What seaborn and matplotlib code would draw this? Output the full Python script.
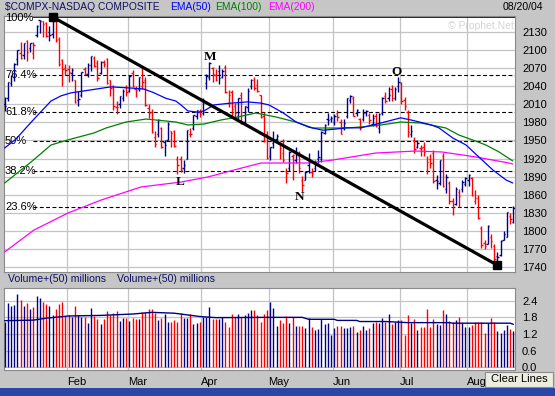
import numpy as np
import pandas as pd
import seaborn as sns
import matplotlib
matplotlib.use('Agg')
import matplotlib.pyplot as plt
from matplotlib.patches import Rectangle
import matplotlib.transforms as mtransforms

# daily bars, Jan 2 2004 .. Aug 20 2004 (trading-day index on the x axis)
opens = [2011, 2020, 2045, 2055, 2085, 2095, 2092, 2115, 2104, 2096, 2125, 2150, 2148, 2145, 2130, 2126, 2150, 2118, 2083, 2070,
         2068, 2062, 2050, 2018, 2025, 2069, 2060, 2075, 2087, 2078, 2062, 2080, 2085, 2050, 2040, 2005, 2010, 2020, 2038,
         2032, 2062, 2036, 2035, 2040, 2050, 2004, 1997, 1955, 1960, 1970, 1948, 1950, 1965, 1965, 1920, 1920, 1905, 1920, 1960, 1970, 1990, 1998,
         1995, 2045, 2055, 2070, 2058, 2065, 2055, 2072, 2012, 2030, 2008, 1990, 2025, 1980, 2005, 2040, 2050, 2042, 2025, 1990, 1960,
         1925, 1945, 1952, 1945, 1930, 1900, 1905, 1925, 1917, 1925, 1885, 1885, 1910, 1897, 1905, 1920, 1920, 1962, 1985, 1985,
         1980, 1995, 1980, 1970, 1990, 2018, 2020, 1995, 1985, 1985, 1995, 1992, 1978, 1990, 1970, 1995, 2023, 2020, 2035, 2020, 2040,
         2045, 2018, 1997, 1960, 1950, 1940, 1937, 1940, 1900, 1920, 1930, 1885, 1880, 1925, 1870, 1880, 1850, 1845, 1865, 1870, 1878,
         1885, 1888, 1850, 1855, 1805, 1780, 1778, 1790, 1775, 1758, 1760, 1785, 1790, 1825, 1815]
highs = [2022, 2047, 2058, 2078, 2100, 2113, 2112, 2116, 2112, 2114, 2141, 2150, 2149, 2147, 2140, 2154, 2150, 2121, 2085, 2077,
         2076, 2070, 2050, 2032, 2064, 2072, 2079, 2090, 2090, 2083, 2082, 2083, 2087, 2051, 2042, 2015, 2024, 2036, 2042,
         2058, 2067, 2040, 2056, 2072, 2055, 2010, 2003, 1966, 1985, 1972, 1950, 1980, 1966, 1968, 1925, 1924, 1917, 1968, 1971, 1993, 2001, 2003,
         2021, 2061, 2080, 2072, 2068, 2075, 2068, 2075, 2034, 2034, 2012, 2021, 2030, 2007, 2037, 2052, 2056, 2052, 2026, 1998, 1966,
         1940, 1966, 1961, 1947, 1953, 1905, 1932, 1928, 1940, 1932, 1891, 1900, 1929, 1905, 1918, 1935, 1965, 1978, 1996, 1990,
         1994, 2000, 1985, 1985, 2021, 2025, 2023, 2002, 1988, 2002, 2000, 1995, 1994, 1996, 1995, 2022, 2030, 2038, 2042, 2038, 2055,
         2047, 2022, 2000, 1975, 1955, 1950, 1942, 1948, 1925, 1927, 1935, 1893, 1918, 1930, 1895, 1883, 1855, 1873, 1870, 1885, 1890,
         1895, 1890, 1867, 1860, 1808, 1785, 1809, 1795, 1778, 1765, 1785, 1800, 1832, 1830, 1841]
lows = [1999, 2016, 2040, 2048, 2075, 2085, 2085, 2082, 2097, 2086, 2121, 2128, 2121, 2121, 2115, 2120, 2114, 2073, 2040, 2058,
        2047, 2049, 2013, 2008, 2022, 2058, 2056, 2065, 2072, 2049, 2061, 2072, 2044, 2023, 2000, 1994, 2004, 2016, 2024,
        2030, 2039, 2022, 2032, 2036, 2008, 1987, 1962, 1940, 1955, 1937, 1925, 1950, 1940, 1940, 1895, 1897, 1896, 1919, 1955, 1968, 1985, 1989,
        1993, 2036, 2050, 2047, 2048, 2044, 2054, 2029, 2006, 1989, 1986, 1986, 1978, 1975, 1997, 2035, 2033, 2031, 1988, 1947, 1919,
        1917, 1937, 1945, 1920, 1915, 1880, 1900, 1884, 1913, 1896, 1865, 1884, 1896, 1889, 1900, 1912, 1915, 1960, 1975, 1980,
        1975, 1982, 1960, 1968, 1988, 2012, 1990, 1990, 1967, 1983, 1990, 1978, 1974, 1972, 1962, 1993, 2013, 2016, 2015, 2018, 2030,
        2010, 2000, 1955, 1955, 1930, 1937, 1925, 1925, 1895, 1905, 1880, 1870, 1876, 1873, 1863, 1845, 1827, 1843, 1840, 1865, 1874,
        1875, 1858, 1845, 1820, 1772, 1770, 1778, 1772, 1750, 1743, 1758, 1784, 1789, 1812, 1813]
closes = [2006.7, 2047.4, 2057.4, 2077.7, 2100.3, 2086.9, 2111.8, 2096.4, 2111.1, 2109.1, 2140.5, 2148.0, 2142.5, 2123.9, 2124.4, 2153.8, 2116.0, 2077.4, 2068.2, 2066.2,
          2063.2, 2066.2, 2014.1, 2019.6, 2064.0, 2060.6, 2075.3, 2089.7, 2073.6, 2053.6, 2080.4, 2076.5, 2046.0, 2037.9, 2007.5, 2005.4, 2023.0, 2032.6, 2029.8,
          2057.8, 2039.7, 2033.4, 2055.1, 2047.6, 2008.8, 1995.2, 1964.2, 1943.9, 1984.7, 1939.2, 1943.1, 1976.8, 1962.4, 1940.5, 1909.9, 1901.8, 1909.5, 1967.2, 1960.0, 1992.6, 2000.6, 1994.2,
          2015.0, 2057.2, 2079.1, 2059.9, 2050.2, 2052.9, 2065.5, 2030.1, 2024.9, 2002.2, 1995.7, 2020.4, 1978.6, 2006.9, 2032.9, 2049.8, 2036.8, 2032.5, 1989.5, 1958.8, 1920.2,
          1938.7, 1950.5, 1957.3, 1937.7, 1918.0, 1896.1, 1931.4, 1925.6, 1926.0, 1904.3, 1876.6, 1897.8, 1898.2, 1896.6, 1912.1, 1923.0, 1964.7, 1976.2, 1984.5, 1986.7,
          1990.8, 1989.0, 1960.3, 1978.6, 2020.6, 2023.5, 1990.6, 1999.9, 1970.0, 1995.6, 1998.2, 1983.7, 1986.7, 1974.4, 1994.2, 2021.0, 2015.6, 2025.5, 2019.8, 2034.9, 2047.8,
          2015.6, 2006.7, 1963.4, 1966.1, 1935.3, 1946.3, 1936.9, 1931.7, 1914.9, 1912.7, 1883.2, 1883.2, 1917.1, 1874.4, 1889.1, 1849.1, 1839.0, 1869.1, 1858.3, 1881.1, 1887.4,
          1892.1, 1859.4, 1855.1, 1821.6, 1776.9, 1774.6, 1808.7, 1782.4, 1752.5, 1757.2, 1782.8, 1795.3, 1831.4, 1819.9, 1838.0]
volume = [1.65, 2.31, 2.21, 2.25, 2.64, 2.43, 2.21, 2.33, 2.09, 2.19, 2.57, 2.51, 2.34, 2.28, 2.21, 1.89, 2.09, 2.27, 2.35, 1.85,
          1.89, 1.80, 2.21, 1.89, 1.83, 1.80, 1.61, 2.13, 1.85, 1.73, 1.56, 1.73, 2.03, 1.89, 1.95, 2.03, 1.68, 1.77, 1.77, 1.67,
          1.77, 1.73, 1.73, 1.98, 1.98, 2.09, 2.11, 1.97, 1.71, 1.77, 1.92, 1.65, 1.65, 1.71, 1.65, 1.95, 1.77, 1.77, 1.92, 1.55,
          1.59, 1.65, 1.80, 1.83, 2.19, 1.73, 1.73, 1.73, 1.80, 1.65, 1.47, 1.92, 1.80, 1.92, 1.80, 1.89, 1.95, 2.07, 2.07, 1.89,
          1.65, 1.91, 2.07, 2.37, 2.13,
          1.50, 1.70, 1.60, 1.85, 1.60, 1.83, 1.50, 1.50, 1.50, 1.40, 1.77, 1.47, 1.35, 1.37, 1.73, 1.56, 1.58, 1.17, 1.40, 1.50,
          1.50, 1.40, 1.40, 1.47, 1.50, 1.28, 1.35, 1.50, 1.35, 1.40, 1.58, 1.65, 1.60, 1.77, 1.65, 1.92, 1.56, 1.65, 1.70, 1.70,
          1.17, 1.89, 1.58, 1.74, 1.35, 1.47, 1.44, 2.09, 1.47, 1.73, 1.56, 1.52, 2.07, 1.92, 1.68, 1.65, 1.70, 1.80, 1.60, 1.47,
          1.47, 1.51, 1.65, 1.65, 1.65, 1.25, 1.58, 1.77, 1.65, 1.32, 1.22, 1.35, 1.52, 1.37, 1.32]

# moving averages (index, value)
ema50_x = [0, 3.5, 6.7, 9.8, 14.5, 17.6, 20.7, 27, 33.2, 39.5, 43.5, 46.3, 50.4, 53.5, 55.1, 57.3, 60.4, 62.3, 65.4, 70.7,
           76, 80.1, 82.6, 87, 91, 95.1, 99.5, 103.5, 106.7, 111.3, 117.6, 123.8, 127, 133.2, 135.7, 140.1, 144.2, 148.2,
           152.6, 156.7, 158.8]
ema50_y = [1937.5, 1952, 1971, 1989, 2015.5, 2024, 2029, 2034, 2039, 2037, 2035.4, 2030, 2020, 2015.5, 2009, 1999, 1997, 1999,
           2009, 2012, 2014, 2012, 2009, 1996, 1981, 1972, 1967, 1969, 1971, 1971, 1979, 1987.6, 1984, 1976, 1971, 1954, 1942.5,
           1922.6, 1901, 1884.4, 1879.4]
ema100_x = [0, 8.2, 14.5, 19.8, 27.9, 31.7, 37.9, 44.2, 50.4, 53.5, 57.3, 62.3, 67.6, 72.9, 78.5, 84.8, 91, 96.4, 101.3, 106.7,
            111.3, 117.6, 123.8, 130.1, 133.2, 137.9, 142, 146.3, 150.4, 154.5, 158.8]
ema100_y = [1879.4, 1914, 1942.5, 1951, 1962.4, 1970.7, 1980.6, 1985.6, 1982.3, 1980.6, 1975.7, 1977.3, 1984, 1989, 1995.6, 1989,
            1980.6, 1970.7, 1970.7, 1970.7, 1972.4, 1975.7, 1980.6, 1979, 1975.7, 1970.7, 1959, 1950.8, 1942.5, 1931, 1916]
ema200_x = [0, 9.2, 19.8, 30.1, 42.6, 55.1, 63.5, 71.7, 80.1, 86.3, 95.1, 102.6, 116, 128.5, 136.7, 147.3, 157.6, 158.8]
ema200_y = [1765, 1801.4, 1829.6, 1851, 1872.8, 1881, 1889.4, 1901, 1912.6, 1912.6, 1912.6, 1917.6, 1929.2, 1932.5, 1930.9,
            1922.6, 1912.6, 1911]
volma_x = [0, 9, 13, 20, 30, 40, 46, 53, 61, 66, 82, 93, 95, 103, 104, 110, 111, 119, 126, 139, 140, 158, 159]
volma_y = [1.68, 1.70, 1.77, 1.85, 1.87, 1.92, 1.98, 1.95, 1.83, 1.79, 1.80, 1.80, 1.73, 1.73, 1.69, 1.69, 1.65, 1.65, 1.61,
           1.61, 1.59, 1.59, 1.55]

month_labels = ['Feb', 'Mar', 'Apr', 'May', 'Jun', 'Jul', 'Aug']
month_start = [20, 39, 62, 83, 103, 124, 145]

fib_labels = ['100%', '76.4%', '61.8%', '50%', '38.2%', '23.6%']
fib_levels = [2155, 2058, 1998, 1949, 1900, 1840]

trend_x = [15, 154]
trend_y = [2155, 1743]

points = {'M': (64.2, 2088), 'L': (54.8, 1881), 'N': (92.3, 1856), 'O': (122.6, 2064)}

sns.set_theme(style='white')
plt.rcParams['font.family'] = ['Liberation Sans', 'DejaVu Sans']

RED = '#ff0000'
NAVY = '#000080'
GRID = '#c4c4c4'
BG = '#c6c6c6'

n = len(closes)
idx = np.arange(n)
up = [True] + [closes[i] >= closes[i - 1] for i in range(1, n)]
cols = [NAVY if u else RED for u in up]

fig = plt.figure(figsize=(5.55, 3.96), dpi=100, facecolor=BG)
W, H = 555.0, 396.0
ax = fig.add_axes([4 / W, 1 - 272 / H, 511 / W, 256 / H], facecolor='white')
axv = fig.add_axes([4 / W, 1 - 370 / H, 511 / W, 82 / H], facecolor='white')

xlim = (-0.19, 159.5)
grid_x = [m - 0.5 for m in month_start]

# ---- price panel
ax.set_xlim(*xlim)
ax.set_ylim(1731.7, 2156.6)
ax.set_yticks(range(1740, 2131, 30))
ax.yaxis.tick_right()
ax.tick_params(axis='y', length=0, pad=5, labelsize=8, colors='black')
ax.set_xticks(grid_x)
ax.set_xticklabels([])
ax.tick_params(axis='x', length=0)
ax.grid(True, color=GRID, lw=0.9)
ax.set_axisbelow(True)
for s in ax.spines.values():
    s.set_color('#8a8a8a')
    s.set_linewidth(0.8)

# fibonacci levels
ax.hlines(fib_levels[1:], 8.9, xlim[1], colors='black', linestyles=(0, (3.5, 2.2)), lw=0.8, zorder=2)
ax.hlines(fib_levels[0], 8.9, xlim[1], colors='black', lw=1.2, zorder=2, clip_on=False)
tr = mtransforms.blended_transform_factory(ax.transAxes, ax.transData)
for lab, lev in zip(fib_labels, fib_levels):
    yy = lev - 2 if lab == '100%' else lev
    ax.text(0.002, yy, lab, transform=tr, ha='left', va='center', fontsize=8, color='black', zorder=3)

# ohlc bars
ax.vlines(idx, lows, highs, colors=cols, lw=1.0, zorder=3)
ax.hlines(opens, idx - 0.45, idx, colors=cols, lw=1.0, zorder=3)
ax.hlines(closes, idx, idx + 0.45, colors=cols, lw=1.0, zorder=3)

# moving averages
sns.lineplot(x=ema200_x, y=ema200_y, ax=ax, color='#ff00ff', lw=0.9, estimator=None, sort=False, zorder=4)
sns.lineplot(x=ema100_x, y=ema100_y, ax=ax, color='#008000', lw=0.9, estimator=None, sort=False, zorder=4)
sns.lineplot(x=ema50_x, y=ema50_y, ax=ax, color='#0000ff', lw=0.9, estimator=None, sort=False, zorder=4)

# trend line
ax.plot(trend_x, trend_y, color='black', lw=2.3, zorder=5, solid_capstyle='butt')
ax.plot(trend_x, trend_y, 's', color='black', ms=6, zorder=6, clip_on=False)

for lab, (px, py) in points.items():
    ax.text(px, py, lab, ha='center', va='center', fontsize=9.5, fontweight='bold',
            family=['Liberation Serif', 'DejaVu Serif'], color='black', zorder=6)
ax.set_xlabel('')
ax.set_ylabel('')

# ---- volume panel
axv.set_xlim(*xlim)
axv.set_ylim(-0.097, 2.858)
axv.set_yticks([0.0, 0.6, 1.2, 1.8, 2.4])
axv.set_yticklabels(['0.0', '0.6', '1.2', '1.8', '2.4'])
axv.yaxis.tick_right()
axv.tick_params(axis='y', length=0, pad=5, labelsize=8, colors='black')
axv.set_xticks(grid_x)
axv.set_xticklabels(month_labels, ha='left')
axv.tick_params(axis='x', length=0, pad=5, labelsize=8, colors='black')
axv.grid(True, color=GRID, lw=0.9)
axv.set_axisbelow(True)
for s in axv.spines.values():
    s.set_color('#8a8a8a')
    s.set_linewidth(0.8)
axv.vlines(idx, 0, volume, colors=cols, lw=1.0, zorder=3)
sns.lineplot(x=volma_x, y=volma_y, ax=axv, color=NAVY, lw=1.0, estimator=None, sort=False, zorder=4)
axv.set_xlabel('')
axv.set_ylabel('')

# ---- header texts
ty = 1 - 7 / H
fig.text(5 / W, ty, '$COMPX-NASDAQ COMPOSITE', color='#101060', fontsize=7.4, va='center')
fig.text(170 / W, ty, 'EMA(50)', color='#0000ff', fontsize=7.4, va='center')
fig.text(215 / W, ty, 'EMA(100)', color='#008000', fontsize=7.4, va='center')
fig.text(268 / W, ty, 'EMA(200)', color='#ff00ff', fontsize=7.4, va='center')
fig.text(543 / W, ty, '08/20/04', color='black', fontsize=7.6, va='center', ha='right')
fig.text(481 / W, 1 - 26 / H, '\u00a9 Prophet.Net', color='#d4d4d4', fontsize=7.5, va='center', ha='center')

vy = 1 - 279 / H
fig.text(8 / W, vy, 'Volume+(50) millions', color='#101060', fontsize=7.6, va='center')
fig.text(117 / W, vy, 'Volume+(50) millions', color='#101060', fontsize=7.6, va='center')

# button and bottom strip
fig.add_artist(Rectangle((485 / W, 1 - 387 / H), 68 / W, 15 / H, transform=fig.transFigure,
                         facecolor='#ececdf', edgecolor='#8c8c8c', lw=0.8))
fig.text(519 / W, 1 - 379.5 / H, 'Clear Lines', color='black', fontsize=8, va='center', ha='center')
fig.add_artist(Rectangle((0, 0), 1, 8 / H, transform=fig.transFigure, facecolor='#2a46a6', edgecolor='none'))

plt.savefig('out.png', dpi=100, facecolor=BG)
